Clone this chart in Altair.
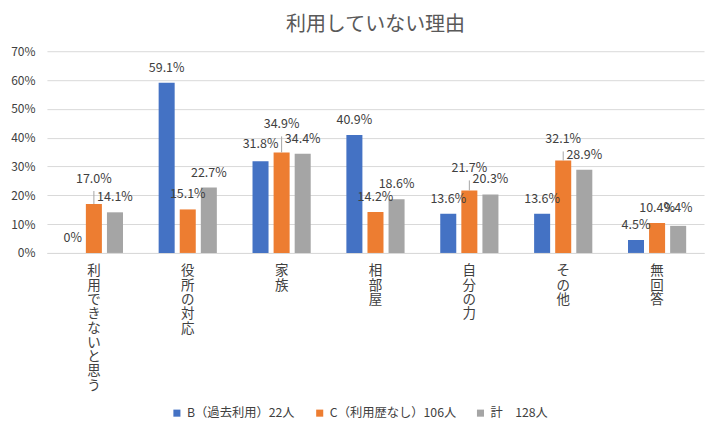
import altair as alt
import pandas as pd

categories = ["利用できないと思う", "役所の対応", "家族", "相部屋", "自分の力", "その他", "無回答"]
series = ["B（過去利用）22人", "C（利用歴なし）106人", "計　128人"]
values_b = [0.0, 59.1, 31.8, 40.9, 13.6, 13.6, 4.5]
values_c = [17.0, 15.1, 34.9, 14.2, 21.7, 32.1, 10.4]
values_total = [14.1, 22.7, 34.4, 18.6, 20.3, 28.9, 9.4]
y_ticks = [0, 10, 20, 30, 40, 50, 60, 70]
colors = ["#4472C4", "#ED7D31", "#A5A5A5"]

# extra lift (pixels) of individual data labels, as placed in the reference
lift_b = [0, 0, 2, 0, 0, 0, 0]
lift_c = [10, 0, 13, 0, 7, 6, 0]
lift_total = [0, 0, 0, 0, 0, 0, 3]

FONT = "Noto Sans CJK JP"
H = 202
YMAX = 70

rows = []
for s, vals, lifts in zip(series, [values_b, values_c, values_total], [lift_b, lift_c, lift_total]):
    for c, v, l in zip(categories, vals, lifts):
        rows.append({"cat": c, "series": s, "value": v, "lift": l})
df = pd.DataFrame(rows)

x = alt.X(
    "cat:N",
    sort=categories,
    scale=alt.Scale(paddingInner=0.38, paddingOuter=0.19),
    axis=alt.Axis(
        title=None,
        labelAngle=0,
        labelExpr="split(datum.label, '')",
        labelBaseline="top",
        labelLineHeight=14.3,
        labelPadding=11,
        labelFontSize=13.5,
        labelFont=FONT,
        labelColor="#404040",
        ticks=False,
        domainColor="#D9D9D9",
    ),
)
xoff = alt.XOffset("series:N", sort=series, scale=alt.Scale(paddingInner=0.24, paddingOuter=0))
yscale = alt.Scale(domain=[0, YMAX], nice=False)
yaxis = alt.Axis(
    title=None,
    values=y_ticks,
    labelExpr="datum.value + '%'",
    labelFontSize=12,
    labelFont=FONT,
    labelColor="#404040",
    labelPadding=12,
    ticks=False,
    domain=False,
    gridColor="#D9D9D9",
)

base = alt.Chart(df).encode(x=x, xOffset=xoff)

bars = base.mark_bar().encode(
    y=alt.Y("value:Q", scale=yscale, axis=yaxis),
    color=alt.Color(
        "series:N",
        sort=series,
        scale=alt.Scale(domain=series, range=colors),
        legend=alt.Legend(
            title=None,
            orient="none",
            legendX=124,
            legendY=356,
            direction="horizontal",
            symbolType="square",
            symbolSize=50,
            symbolStrokeWidth=0,
            labelFontSize=12.3,
            labelFont=FONT,
            labelColor="#404040",
            labelOffset=4,
            columnPadding=18,
        ),
    ),
)

px = YMAX / H

labels = base.transform_calculate(
    lab="datum.value == 0 ? '0%' : format(datum.value, '.1f') + '%'",
    ylab=f"datum.value + datum.lift * {px}",
).mark_text(baseline="middle", dy=-15, fontSize=12.5, font=FONT, color="#404040").encode(
    y=alt.Y("ylab:Q", scale=yscale, axis=yaxis), text="lab:N"
)

leaders = base.transform_filter("datum.lift >= 5").transform_calculate(
    ltop=f"datum.value + (datum.lift + 3) * {px}"
).mark_rule(color="#A6A6A6", strokeWidth=1).encode(
    y=alt.Y("value:Q", scale=yscale, axis=yaxis), y2="ltop:Q"
)

chart = (
    alt.layer(bars, leaders, labels)
    .properties(
        width=658,
        height=H,
        padding={"left": 2, "top": 7, "right": 8, "bottom": 0},
        title=alt.TitleParams(
            "利用していない理由",
            fontSize=20,
            font=FONT,
            fontWeight="normal",
            color="#595959",
            anchor="middle",
            offset=10,
        ),
    )
    .configure_view(stroke=None)
)

chart.save("out.html", embed_options={"renderer": "svg", "actions": False})
